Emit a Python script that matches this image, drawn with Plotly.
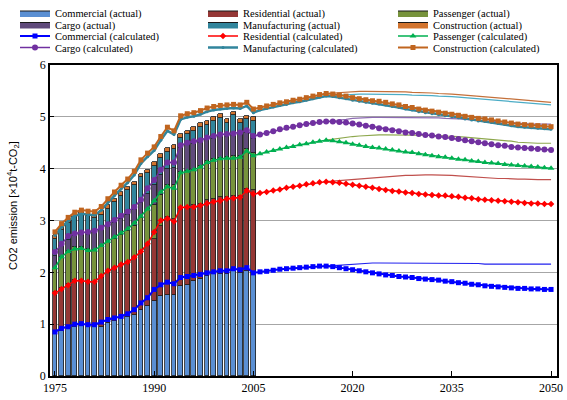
import plotly.graph_objects as go

# ---- data -------------------------------------------------------------
years_actual = list(range(1975, 2006))
years_calc = list(range(1975, 2051))
years_alt = list(range(2016, 2051))

sectors = ["Commercial", "Residential", "Passenger", "Cargo", "Manufacturing", "Construction"]

# actual emissions by sector (stacked bars), 1975-2005
commercial_actual = [0.81, 0.87, 0.93, 0.95, 0.97, 0.95, 0.95, 0.95, 1.03, 1.06,
                     1.11, 1.13, 1.17, 1.27, 1.35, 1.45, 1.54, 1.57, 1.57, 1.73,
                     1.76, 1.83, 1.88, 1.93, 1.97, 1.97, 1.97, 2.02, 1.99, 2.03, 1.97]
residential_actual = [0.81, 0.83, 0.84, 0.91, 0.89, 0.89, 0.87, 0.95, 0.96, 1.00,
                      1.02, 1.07, 1.13, 1.15, 1.20, 1.19, 1.36, 1.49, 1.45, 1.49,
                      1.50, 1.46, 1.44, 1.47, 1.44, 1.48, 1.48, 1.46, 1.48, 1.58, 1.61]
passenger_actual = [0.46, 0.60, 0.65, 0.62, 0.62, 0.61, 0.62, 0.60, 0.59, 0.59,
                    0.59, 0.60, 0.60, 0.63, 0.65, 0.66, 0.60, 0.63, 0.66, 0.71,
                    0.69, 0.69, 0.74, 0.75, 0.77, 0.75, 0.77, 0.77, 0.78, 0.77, 0.73]
cargo_actual = [0.24, 0.20, 0.21, 0.22, 0.24, 0.28, 0.31, 0.31, 0.30, 0.30,
                0.31, 0.31, 0.30, 0.28, 0.32, 0.38, 0.38, 0.31, 0.34, 0.47,
                0.50, 0.50, 0.44, 0.40, 0.40, 0.41, 0.40, 0.38, 0.40, 0.31, 0.27]
manufacturing_actual = [0.33, 0.31, 0.32, 0.36, 0.38, 0.35, 0.30, 0.30, 0.35, 0.40,
                        0.45, 0.47, 0.48, 0.50, 0.39, 0.37, 0.33, 0.33, 0.36, 0.20,
                        0.21, 0.25, 0.31, 0.30, 0.34, 0.37, 0.27, 0.40, 0.24, 0.26, 0.34]
construction_actual = [0.07] * 31

# calculated emissions (cumulative level of each sector), 1975-2050
commercial_calc = [0.85, 0.92, 0.95, 1.00, 1.01, 0.99, 0.99, 1.04, 1.09, 1.12,
                   1.15, 1.20, 1.28, 1.41, 1.51, 1.67, 1.76, 1.81, 1.78, 1.90,
                   1.92, 1.94, 1.96, 1.99, 2.01, 2.03, 2.03, 2.07, 2.05, 2.09, 1.99,
                   2.01, 2.02, 2.04, 2.06, 2.07, 2.08, 2.09, 2.10, 2.11, 2.12,
                   2.12, 2.11, 2.09, 2.07, 2.05, 2.03, 2.01, 1.99, 1.97, 1.95,
                   1.94, 1.92, 1.91, 1.90, 1.88, 1.87, 1.86, 1.85, 1.83, 1.82,
                   1.80, 1.79, 1.77, 1.76, 1.74, 1.73, 1.72, 1.71, 1.70, 1.69,
                   1.69, 1.68, 1.68, 1.67, 1.67]
residential_calc = [1.60, 1.68, 1.75, 1.84, 1.84, 1.82, 1.82, 1.93, 2.03, 2.09,
                    2.15, 2.20, 2.29, 2.40, 2.55, 2.78, 3.00, 3.04, 2.98, 3.25,
                    3.26, 3.26, 3.29, 3.33, 3.36, 3.38, 3.42, 3.43, 3.45, 3.58, 3.51,
                    3.53, 3.55, 3.58, 3.60, 3.63, 3.65, 3.67, 3.70, 3.72, 3.74,
                    3.75, 3.74, 3.73, 3.71, 3.69, 3.67, 3.65, 3.63, 3.61, 3.59,
                    3.57, 3.56, 3.54, 3.53, 3.51, 3.50, 3.49, 3.48, 3.48, 3.47,
                    3.46, 3.44, 3.43, 3.41, 3.40, 3.39, 3.38, 3.37, 3.36, 3.35,
                    3.34, 3.33, 3.33, 3.32, 3.32]
passenger_calc = [2.09, 2.30, 2.40, 2.45, 2.46, 2.42, 2.43, 2.52, 2.60, 2.68,
                  2.76, 2.84, 2.95, 3.08, 3.22, 3.38, 3.55, 3.65, 3.62, 3.92,
                  3.95, 3.98, 4.03, 4.12, 4.16, 4.19, 4.20, 4.20, 4.22, 4.34, 4.25,
                  4.29, 4.32, 4.35, 4.38, 4.41, 4.43, 4.46, 4.48, 4.51, 4.53,
                  4.55, 4.54, 4.52, 4.50, 4.47, 4.45, 4.43, 4.41, 4.40, 4.38,
                  4.36, 4.34, 4.32, 4.31, 4.29, 4.27, 4.25, 4.23, 4.22, 4.20,
                  4.18, 4.17, 4.15, 4.14, 4.12, 4.11, 4.10, 4.08, 4.07, 4.06,
                  4.05, 4.04, 4.03, 4.02, 4.01]
cargo_calc = [2.39, 2.55, 2.70, 2.75, 2.77, 2.78, 2.80, 2.86, 2.93, 3.01,
              3.09, 3.17, 3.26, 3.40, 3.62, 3.78, 3.98, 4.12, 4.12, 4.45,
              4.50, 4.53, 4.55, 4.60, 4.63, 4.66, 4.67, 4.68, 4.70, 4.74, 4.63,
              4.66, 4.69, 4.72, 4.76, 4.79, 4.81, 4.84, 4.86, 4.88, 4.90,
              4.91, 4.91, 4.90, 4.89, 4.87, 4.85, 4.83, 4.81, 4.78, 4.76,
              4.74, 4.72, 4.70, 4.69, 4.67, 4.65, 4.64, 4.62, 4.61, 4.59,
              4.57, 4.55, 4.53, 4.51, 4.49, 4.47, 4.45, 4.44, 4.42, 4.41,
              4.40, 4.39, 4.38, 4.37, 4.36]
manufacturing_calc = [2.71, 2.87, 2.99, 3.09, 3.13, 3.11, 3.10, 3.20, 3.35, 3.48,
                      3.61, 3.73, 3.88, 4.10, 4.23, 4.35, 4.55, 4.73, 4.66, 4.95,
                      4.99, 5.01, 5.05, 5.10, 5.13, 5.15, 5.16, 5.17, 5.16, 5.21, 5.08,
                      5.13, 5.16, 5.19, 5.22, 5.24, 5.27, 5.29, 5.32, 5.35, 5.38,
                      5.40, 5.39, 5.37, 5.35, 5.32, 5.30, 5.28, 5.26, 5.25, 5.23,
                      5.20, 5.18, 5.15, 5.13, 5.10, 5.08, 5.06, 5.04, 5.02, 5.00,
                      4.98, 4.96, 4.94, 4.92, 4.91, 4.89, 4.87, 4.85, 4.83, 4.81,
                      4.80, 4.79, 4.78, 4.77, 4.76]
construction_calc = [2.78, 2.94, 3.06, 3.16, 3.20, 3.18, 3.17, 3.27, 3.42, 3.55,
                     3.68, 3.80, 3.95, 4.17, 4.30, 4.42, 4.62, 4.80, 4.73, 5.02,
                     5.06, 5.08, 5.12, 5.17, 5.20, 5.22, 5.23, 5.24, 5.23, 5.28, 5.15,
                     5.18, 5.21, 5.24, 5.27, 5.29, 5.32, 5.34, 5.37, 5.40, 5.43,
                     5.45, 5.44, 5.42, 5.40, 5.37, 5.35, 5.33, 5.31, 5.30, 5.28,
                     5.25, 5.23, 5.20, 5.18, 5.15, 5.13, 5.11, 5.09, 5.07, 5.05,
                     5.03, 5.01, 4.99, 4.97, 4.96, 4.94, 4.92, 4.90, 4.88, 4.86,
                     4.85, 4.84, 4.83, 4.82, 4.81]

# alternative projection (thin lines), 2016-2050
commercial_alt = [2.12, 2.13, 2.14, 2.15, 2.16, 2.17, 2.17, 2.18, 2.18, 2.18,
                  2.18, 2.18, 2.18, 2.18, 2.18, 2.18, 2.18, 2.18, 2.18, 2.18,
                  2.18, 2.17, 2.17, 2.17, 2.16, 2.16, 2.16, 2.15, 2.15, 2.15,
                  2.15, 2.15, 2.15, 2.16, 2.16]
residential_alt = [3.75, 3.76, 3.77, 3.78, 3.80, 3.81, 3.82, 3.83, 3.84, 3.85,
                   3.86, 3.86, 3.87, 3.87, 3.88, 3.88, 3.88, 3.88, 3.87, 3.87,
                   3.86, 3.85, 3.85, 3.84, 3.83, 3.82, 3.81, 3.81, 3.80, 3.80,
                   3.80, 3.79, 3.79, 3.79, 3.79]
passenger_alt = [4.55, 4.57, 4.58, 4.60, 4.62, 4.63, 4.64, 4.64, 4.65, 4.65,
                 4.65, 4.65, 4.65, 4.65, 4.65, 4.65, 4.64, 4.64, 4.63, 4.63,
                 4.62, 4.61, 4.60, 4.59, 4.57, 4.56, 4.55, 4.54, 4.53, 4.51,
                 4.50, 4.50, 4.49, 4.49, 4.49]
cargo_alt = [4.91, 4.92, 4.93, 4.95, 4.97, 4.98, 4.98, 4.99, 4.99, 4.99,
             4.99, 4.99, 4.99, 4.99, 4.99, 4.98, 4.98, 4.98, 4.97, 4.97,
             4.96, 4.95, 4.94, 4.93, 4.92, 4.91, 4.90, 4.89, 4.88, 4.87,
             4.87, 4.86, 4.86, 4.86, 4.86]
manufacturing_alt = [5.40, 5.41, 5.42, 5.43, 5.44, 5.44, 5.44, 5.44, 5.44, 5.44,
                     5.43, 5.43, 5.43, 5.42, 5.42, 5.41, 5.41, 5.40, 5.40, 5.39,
                     5.38, 5.37, 5.36, 5.35, 5.33, 5.32, 5.31, 5.30, 5.29, 5.28,
                     5.27, 5.26, 5.25, 5.24, 5.23]
construction_alt = [5.45, 5.46, 5.47, 5.48, 5.49, 5.49, 5.49, 5.49, 5.49, 5.49,
                    5.48, 5.48, 5.48, 5.47, 5.47, 5.46, 5.46, 5.45, 5.45, 5.44,
                    5.43, 5.42, 5.41, 5.40, 5.38, 5.37, 5.36, 5.35, 5.34, 5.33,
                    5.32, 5.31, 5.30, 5.29, 5.28]

x_ticks = [1975, 1990, 2005, 2020, 2035, 2050]
y_title = "CO2 emission [×10<sup>4</sup>t-CO<sub>2</sub>]"

# ---- styles -----------------------------------------------------------
bar_colors = ["#5A8FD3", "#953735", "#77933C", "#604A7B", "#31859C", "#D2742F"]
calc_colors = ["#0000FF", "#FF0000", "#00B050", "#7030A0", "#31859C", "#C0651F"]
alt_colors = ["#2222EE", "#C0504D", "#8EA84E", "#8C6BB1", "#4BACC6", "#C4703A"]
calc_symbols = ["square", "diamond", "triangle-up", "circle", "circle", "square"]
calc_sizes = [5, 5, 6, 6, 3, 5]
calc_widths = [2, 1.5, 1.5, 1.5, 2.5, 2]

actual = [commercial_actual, residential_actual, passenger_actual,
          cargo_actual, manufacturing_actual, construction_actual]
calc = [commercial_calc, residential_calc, passenger_calc,
        cargo_calc, manufacturing_calc, construction_calc]
alt = [commercial_alt, residential_alt, passenger_alt,
       cargo_alt, manufacturing_alt, construction_alt]

W, H = 567, 400
FONT = "Liberation Serif"

fig = go.Figure()

# stacked bars (legend entries are drawn by the key-only traces below)
for i, name in enumerate(sectors):
    fig.add_trace(go.Bar(
        x=years_actual, y=actual[i], name=f"{name} (actual)",
        marker=dict(color=bar_colors[i], line=dict(color="#1a1a1a", width=0.8)),
        width=0.72, showlegend=False, legendgroup=f"a{i}",
    ))

# thin alternative-projection lines
for i, name in enumerate(sectors):
    fig.add_trace(go.Scatter(
        x=years_alt, y=alt[i], mode="lines", showlegend=False,
        line=dict(color=alt_colors[i], width=1.2), hoverinfo="skip",
    ))

# calculated lines with markers
for i, name in enumerate(sectors):
    fig.add_trace(go.Scatter(
        x=years_calc, y=calc[i], mode="lines+markers", name=f"{name} (calculated)",
        line=dict(color=calc_colors[i], width=calc_widths[i]),
        marker=dict(symbol=calc_symbols[i], size=calc_sizes[i], color=calc_colors[i]),
    ))

# legend keys for the bar series (filled rectangles)
for i, name in enumerate(sectors):
    fig.add_trace(go.Scatter(
        x=[None], y=[None], mode="lines", fill="toself", name=f"{name} (actual)",
        fillcolor=bar_colors[i], line=dict(color="#1a1a1a", width=1),
        legendgroup=f"a{i}",
    ))

# place the 12 legend entries on a 4 x 3 grid (row centres in pixels)
col_x = [15, 203, 393]
row_mid = [13, 24.5, 36, 47.5]
entry_names = [f"{s} (actual)" for s in sectors] + [f"{s} (calculated)" for s in sectors]
legend_layout = {}
for k, nm in enumerate(entry_names):
    key = "legend" if k == 0 else f"legend{k + 1}"
    r, c = divmod(k, 3)
    legend_layout[key] = dict(
        x=col_x[c] / W, y=1 - row_mid[r] / H, xref="container", yref="container",
        xanchor="left", yanchor="middle", bgcolor="rgba(0,0,0,0)", borderwidth=0,
        font=dict(family=FONT, size=10.5, color="black"), orientation="v",
    )
    for tr in fig.data:
        if tr.name == nm and tr.showlegend is not False:
            tr.legend = key

fig.update_layout(
    width=W, height=H,
    margin=dict(l=50, r=10, t=65, b=24, autoexpand=False),
    paper_bgcolor="white", plot_bgcolor="white",
    barmode="stack", bargap=0,
    font=dict(family=FONT, size=12, color="black"),
    annotations=[dict(
        text=y_title, textangle=-90, xref="paper", yref="paper",
        x=-0.073, y=0.55, xanchor="center", yanchor="middle", showarrow=False,
        font=dict(family="Liberation Sans", size=11, color="black"),
    )],
    **legend_layout,
)

fig.update_xaxes(
    range=[1974.25, 2050.9], tickvals=x_ticks, ticks="inside", ticklen=5,
    tickcolor="black", showline=True, linecolor="black", linewidth=1.5,
    mirror=True, showgrid=False, zeroline=False, automargin=False,
    tickfont=dict(family=FONT, size=12, color="black"),
)
fig.update_yaxes(
    range=[0, 6], dtick=1, ticks="inside", ticklen=4, tickcolor="black",
    showline=True, linecolor="black", linewidth=1.5, mirror=True,
    showgrid=True, gridcolor="#A6A6A6", gridwidth=1, zeroline=False,
    automargin=False,
    tickfont=dict(family=FONT, size=12, color="black"),
)

fig.write_html("out.html")
